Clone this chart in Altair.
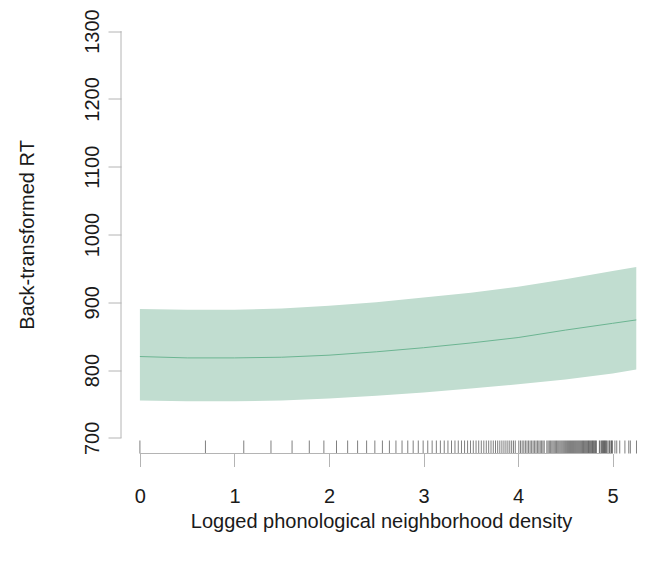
import altair as alt
import numpy as np
import pandas as pd

# Model curve: logged neighborhood density vs back-transformed RT
density_x = [0.0, 0.5, 1.0, 1.5, 2.0, 2.5, 3.0, 3.5, 4.0, 4.5, 5.0, 5.25]
fit_rt = [820, 818, 818, 819, 822, 827, 833, 840, 848, 859, 869, 874]
ci_lower = [755, 754, 754, 755, 758, 762, 767, 773, 779, 786, 795, 801]
ci_upper = [890, 889, 889, 891, 895, 900, 907, 914, 923, 934, 946, 952]

# Raw phonological neighborhood counts observed for the items (rug)
neighbor_counts = [
    1, 2, 3, 4, 5, 6, 7, 8, 9, 10, 11, 12, 13, 14, 15, 16, 17, 18, 19, 20,
    21, 22, 23, 24, 25, 26, 27, 28, 29, 30, 31, 32, 33, 34, 35, 36, 37, 38,
    39, 40, 41, 42, 43, 44, 45, 46, 47, 48, 49, 50, 51, 52, 53, 55, 56, 57,
    58, 59, 60, 61, 62, 63, 64, 65, 66, 67, 68, 69, 70, 71, 72, 74, 75, 76,
    77, 78, 79, 80, 81, 82, 83, 84, 85, 86, 87, 88, 89, 90, 91, 92, 93, 94,
    95, 96, 97, 98, 99, 100, 101, 102, 103, 104, 105, 106, 107, 108, 109,
    110, 111, 112, 113, 114, 115, 116, 117, 118, 119, 120, 121, 122, 123,
    124, 125, 129, 130, 132, 133, 134, 135, 136, 137, 138, 139, 141, 143,
    144, 146, 147, 148, 152, 155, 160, 169, 176, 179, 191,
]

x_ticks = [0, 1, 2, 3, 4, 5]
y_ticks = [700, 800, 900, 1000, 1100, 1200, 1300]

x_domain = [-0.2, 5.3]
y_domain = [677, 1323]

FONT = "Liberation Sans"
AXIS_GRAY = "#b4b4b4"
TEXT = "#1a1a1a"
FS = 20

curve = pd.DataFrame({"x": density_x, "fit": fit_rt, "lo": ci_lower, "hi": ci_upper})
rug = pd.DataFrame({"x": np.log(neighbor_counts)})
xline = pd.DataFrame({"x": [min(x_ticks)], "x2": [max(x_ticks)]})
yline = pd.DataFrame({"y": [min(y_ticks)], "y2": [max(y_ticks)]})

x_scale = alt.Scale(domain=x_domain, nice=False, zero=False)
y_scale = alt.Scale(domain=y_domain, nice=False, zero=False)

x_axis = alt.Axis(
    values=x_ticks, format="d", domain=False, grid=False, tickSize=13,
    tickColor=AXIS_GRAY, tickWidth=1, labelFontSize=FS, labelFont=FONT,
    labelColor=TEXT, labelPadding=20, labelFlush=False,
    title="Logged phonological neighborhood density", titleFont=FONT,
    titleFontSize=FS, titleFontWeight="normal", titleColor=TEXT,
    titleBaseline="middle", titleY=68,
)
y_axis = alt.Axis(
    values=y_ticks, format="d", domain=False, grid=False, tickSize=13,
    tickColor=AXIS_GRAY, tickWidth=1, labelFontSize=FS, labelFont=FONT,
    labelColor=TEXT, labelAngle=270, labelAlign="center",
    labelBaseline="bottom", labelPadding=6, labelFlush=False,
    title="Back-transformed RT", titleFont=FONT, titleFontSize=FS,
    titleFontWeight="normal", titleColor=TEXT, titleAngle=270,
    titleBaseline="middle", titleX=-94,
)

band = alt.Chart(curve).mark_area(color="#c1ddd0", opacity=1).encode(
    x=alt.X("x:Q", scale=x_scale, axis=x_axis),
    y=alt.Y("lo:Q", scale=y_scale, axis=y_axis),
    y2="hi:Q",
)

line = alt.Chart(curve).mark_line(color="#6cb592", strokeWidth=1).encode(
    x=alt.X("x:Q", scale=x_scale),
    y=alt.Y("fit:Q", scale=y_scale),
)

rug_marks = alt.Chart(rug).mark_rule(color="#000000", opacity=0.5, strokeWidth=1).encode(
    x=alt.X("x:Q", scale=x_scale),
    y=alt.value(425),
    y2=alt.value(438),
)

x_domain_line = alt.Chart(xline).mark_rule(color=AXIS_GRAY, strokeWidth=1).encode(
    x=alt.X("x:Q", scale=x_scale),
    x2="x2:Q",
    y=alt.value(438),
)

y_domain_line = alt.Chart(yline).mark_rule(color=AXIS_GRAY, strokeWidth=1).encode(
    y=alt.Y("y:Q", scale=y_scale),
    y2="y2:Q",
    x=alt.value(0),
)

chart = (
    alt.layer(band, line, rug_marks, x_domain_line, y_domain_line)
    .properties(
        width=520,
        height=438,
        autosize=alt.AutoSizeParams(type="none"),
        padding={"left": 121, "top": 15.5, "right": 8, "bottom": 111.5},
        background="white",
    )
    .configure_view(stroke=None)
)

chart.save("out.html", embed_options={"renderer": "svg", "actions": False})
